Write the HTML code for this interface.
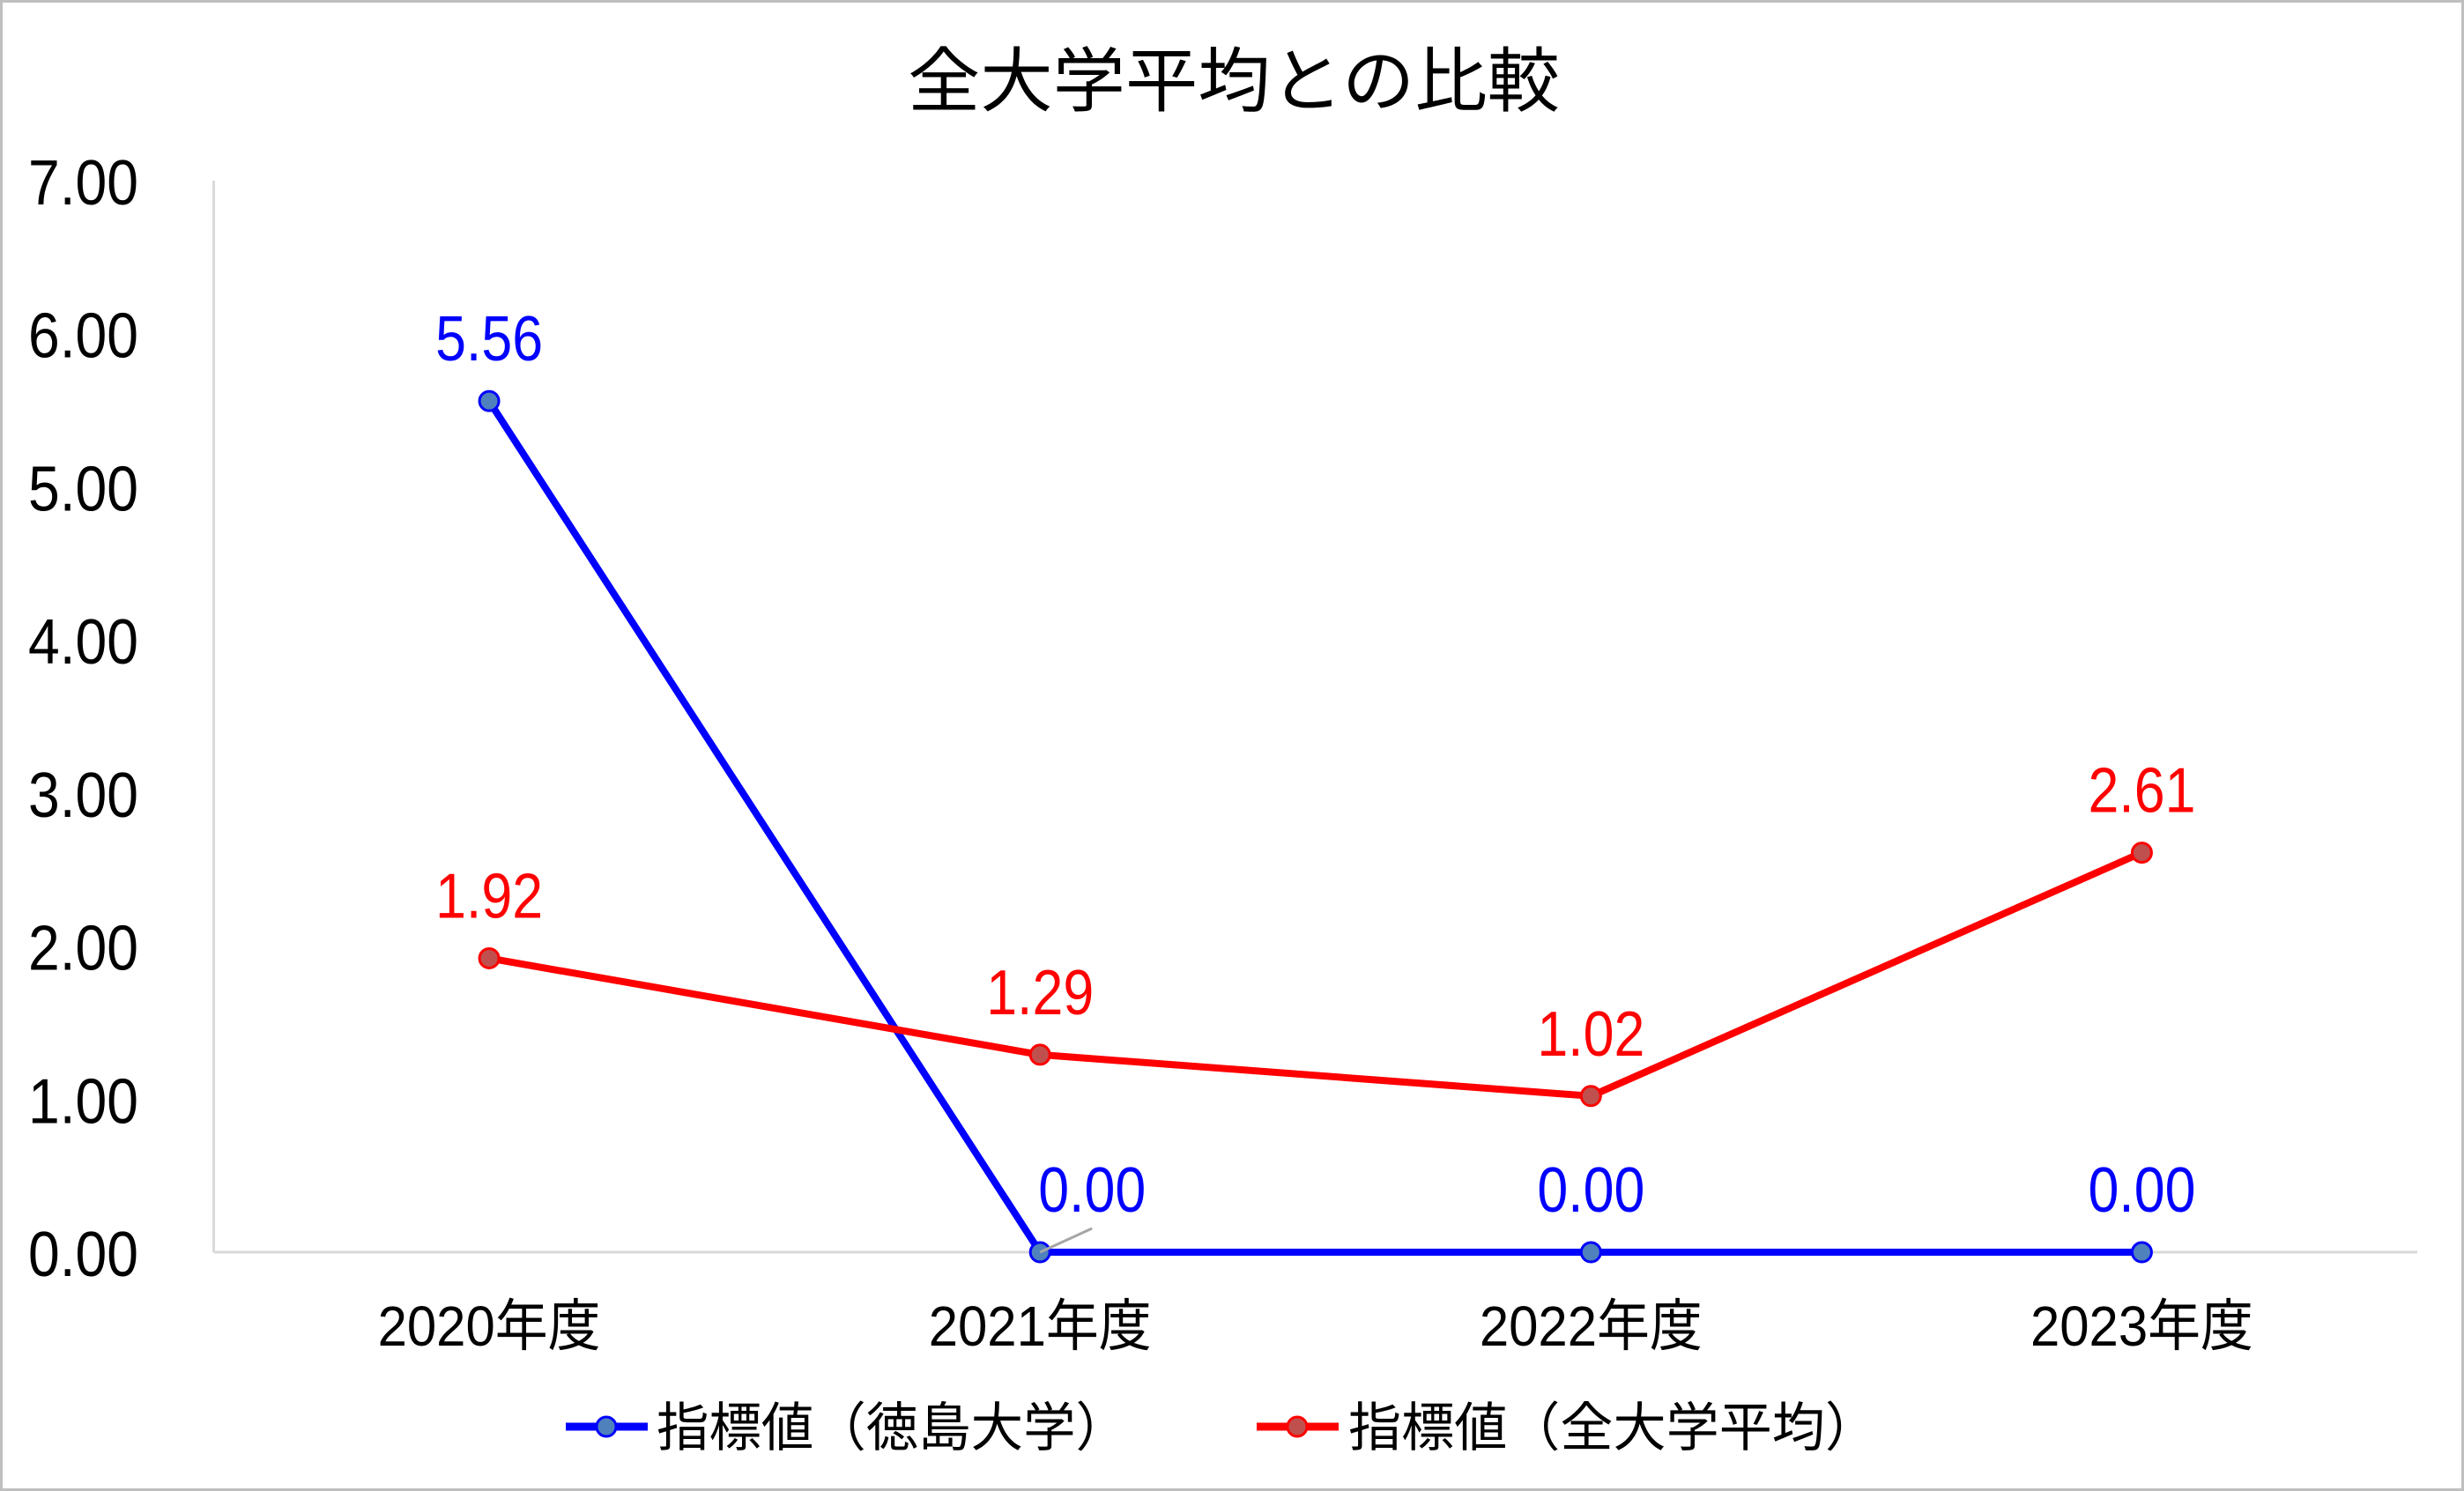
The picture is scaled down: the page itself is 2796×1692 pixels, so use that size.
<!DOCTYPE html>
<html><head><meta charset="utf-8"><style>
html,body{margin:0;padding:0;background:#fff}
svg{display:block}
text{font-family:"Liberation Sans","Noto Sans CJK JP",sans-serif}
</style></head><body>
<svg id="chart" width="2796" height="1692" viewBox="0 0 2796 1692" xmlns="http://www.w3.org/2000/svg">
<rect x="1.5" y="1.5" width="2793" height="1689" fill="#fff" stroke="#bfbfbf" stroke-width="3"/>
<text x="1400" y="120" font-size="80" text-anchor="middle" textLength="740" lengthAdjust="spacingAndGlyphs">全大学平均との比較</text>
<g id="axes"></g>
<g id="series"></g>
<g>
<g>
<line x1="642" y1="1619" x2="735" y2="1619" stroke="#0000ff" stroke-width="9"/>
<circle cx="688" cy="1619" r="11" fill="#4f81bd" stroke="#0000ff" stroke-width="3"/>
<text x="745" y="1641" font-size="60" textLength="535" lengthAdjust="spacingAndGlyphs">指標値（徳島大学）</text>
</g>
<g>
<line x1="1426" y1="1619" x2="1519" y2="1619" stroke="#ff0000" stroke-width="9"/>
<circle cx="1472" cy="1619" r="11" fill="#c0504d" stroke="#ff0000" stroke-width="3"/>
<text x="1530" y="1641" font-size="60" textLength="601" lengthAdjust="spacingAndGlyphs">指標値（全大学平均）</text>
</g>
</g>
</svg>
<script>
const categories = ["2020年度","2021年度","2022年度","2023年度"];
const tokushimaValues = [5.56, 0.00, 0.00, 0.00];
const averageValues = [1.92, 1.29, 1.02, 2.61];
const yTicks = [0,1,2,3,4,5,6,7];
const yTickLabels = ["0.00","1.00","2.00","3.00","4.00","5.00","6.00","7.00"];

const NS="http://www.w3.org/2000/svg";
const plotLeft=242.5,plotRight=2743,plotTop=205,plotBottom=1421,yMax=7;
const band=(plotRight-plotLeft)/categories.length;
function xPos(i){return plotLeft+(i+0.5)*band;}
function yPos(v){return plotBottom-(v/yMax)*(plotBottom-plotTop);}
function mk(tag,attrs,parent){const e=document.createElementNS(NS,tag);for(const k in attrs)e.setAttribute(k,attrs[k]);parent.appendChild(e);return e;}

const axes=document.getElementById('axes');
const ya=mk('line',{x1:plotLeft,y1:plotTop,x2:plotLeft,y2:plotBottom,stroke:'#d9d9d9','stroke-width':3},axes);


const xa=mk('line',{x1:plotLeft,y1:plotBottom,x2:plotRight,y2:plotBottom,stroke:'#d9d9d9','stroke-width':3},axes);


yTicks.forEach((v,i)=>{
  const t=mk('text',{x:157,y:yPos(v)+27,'font-size':72,'text-anchor':'end',textLength:125,lengthAdjust:'spacingAndGlyphs'},axes);
  t.textContent=yTickLabels[i];
  
  
});
categories.forEach((c,i)=>{
  const t=mk('text',{x:xPos(i),y:1527,'font-size':64,'text-anchor':'middle',textLength:253,lengthAdjust:'spacingAndGlyphs'},axes);
  t.textContent=c;
  
  
});

const seriesGroup=document.getElementById('series');
function drawSeries(vals,color,fill,name){
  const g=mk('g',{},seriesGroup);
  
  
  const pts=vals.map((v,i)=>xPos(i)+','+yPos(v)).join(' ');
  const pl=mk('polyline',{points:pts,fill:'none',stroke:color,'stroke-width':8,'stroke-linejoin':'round'},g);
  
  
  vals.forEach((v,i)=>{
    const c=mk('circle',{cx:xPos(i),cy:yPos(v),r:11,fill:fill,stroke:color,'stroke-width':3},g);
    
    
  });
  vals.forEach((v,i)=>{
    let lx=xPos(i), ly=yPos(v)-73;
    if(name==='tokushima-series' && i===1){
      lx+=59;
      const ld=mk('line',{x1:xPos(i),y1:yPos(v),x2:xPos(i)+59,y2:yPos(v)-27,stroke:'#a6a6a6','stroke-width':3},g);
      
      
    }
    const t=mk('text',{x:lx,y:ly+27,'font-size':72,'text-anchor':'middle',fill:color,textLength:122,lengthAdjust:'spacingAndGlyphs'},g);
    t.textContent=v.toFixed(2);
    
    
  });
}
drawSeries(tokushimaValues,'#0000ff','#4f81bd','tokushima-series');
drawSeries(averageValues,'#ff0000','#c0504d','all-average-series');
</script>
</body></html>
